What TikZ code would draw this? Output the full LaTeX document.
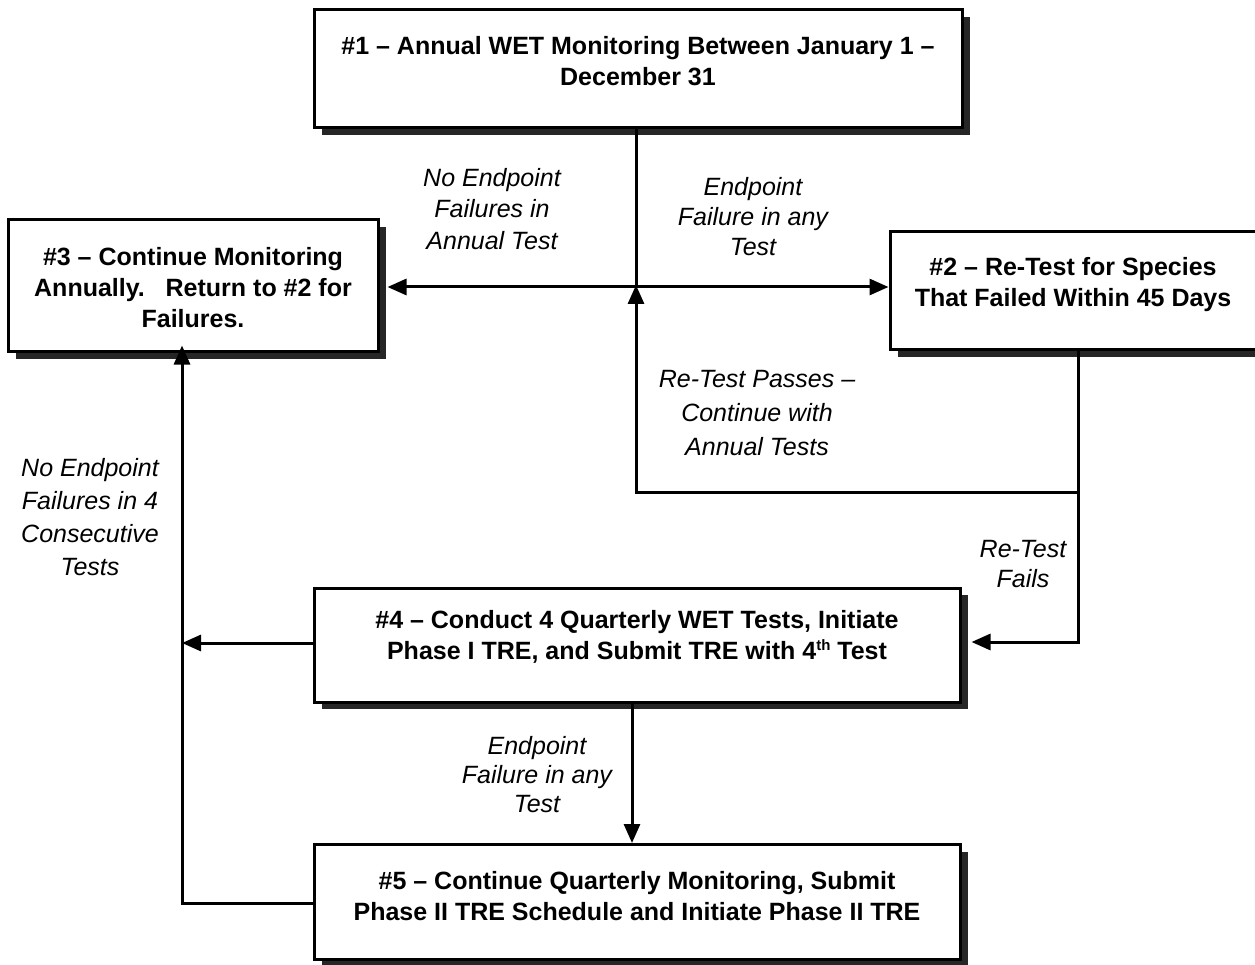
\documentclass[tikz,border=0pt]{standalone}
\usepackage{fontspec}
\setmainfont{Liberation Sans}
\usetikzlibrary{arrows.meta,shadows}
\tikzset{
  box/.style={draw, line width=3pt, fill=white, inner sep=0pt,
    drop shadow={shadow xshift=8pt, shadow yshift=-7pt, fill=black!85, opacity=1}},
  btext/.style={font=\fontsize{25}{31}\selectfont\bfseries, align=center, inner sep=0pt},
  ltext/.style={font=\fontsize{25}{31}\selectfont\itshape, align=center, inner sep=0pt},
  conn/.style={line width=3pt},
  tip/.style={-{Triangle[length=19pt,width=16pt]}},
  dtip/.style={{Triangle[length=19pt,width=16pt]}-{Triangle[length=19pt,width=16pt]}}
}
\begin{document}
\begin{tikzpicture}[x=1pt,y=-1pt]
\useasboundingbox (0,0) rectangle (1255,965);
\begin{scope}
\clip (0,0) rectangle (1255,965);
% boxes
\node[box, minimum width=648pt, minimum height=118pt] (b1) at (638,69) {};
\node[box, minimum width=370pt, minimum height=132pt] (b3) at (193,286) {};
\node[box, minimum width=372pt, minimum height=118pt] (b2) at (1076,291) {};
\node[box, minimum width=646pt, minimum height=114pt] (b4) at (637,645) {};
\node[box, minimum width=646pt, minimum height=115pt] (b5) at (637,902) {};
\end{scope}
% box texts
\node[btext] (t1) at (638,61) {\#1 – Annual WET Monitoring Between January 1 –\\December 31};
\node[btext] (t3) at (193,288) {\#3 – Continue Monitoring\\Annually.\ \ \ Return to \#2 for\\Failures.};
\node[btext] (t2) at (1073,285) {\#2 – Re-Test for Species\\That Failed Within 45 Days};
\node[btext] (t4) at (637,637) {\#4 – Conduct 4 Quarterly WET Tests, Initiate\\Phase I TRE, and Submit TRE with 4{\fontsize{15}{15}\selectfont\raisebox{9pt}{th}} Test};
\node[btext] (t5) at (637,896) {\#5 – Continue Quarterly Monitoring, Submit\\Phase II TRE Schedule and Initiate Phase II TRE};
% junction coordinates
\coordinate (j1) at (636,287);
\coordinate (j2) at (1078,492);
\coordinate (j3) at (636,492);
\coordinate (j4) at (182,643);
\coordinate (j5) at (182,903);
% connectors
\draw[conn] (b1.south -| j1) -- (j1);
\draw[conn, dtip] ([xshift=8pt]b3.east |- j1) -- (b2.west |- j1);
\draw[conn, tip] (b2.south -| j2) -- (j2) -- (j3) -- ([yshift=2pt]j1);
\draw[conn, tip] (j2) -- (1078,642) -- ([xshift=10pt]b4.east |- 0,642);
\draw[conn, tip] (b4.west |- j4) -- (j4);
\draw[conn, tip] (b5.west |- j5) -- (j5) -- ([yshift=8pt]b3.south -| j5);
\draw[conn, tip] (b4.south -| 632,0) -- (b5.north -| 632,0);
% labels
\node[ltext, font=\fontsize{25}{31.5}\selectfont\itshape] (l1) at (492,209) {No Endpoint\\Failures in\\Annual Test};
\node[ltext, font=\fontsize{25}{30}\selectfont\itshape] (l2) at (753,217) {Endpoint\\Failure in any\\Test};
\node[ltext, font=\fontsize{25}{34}\selectfont\itshape] (l3) at (757,413) {Re-Test Passes –\\Continue with\\Annual Tests};
\node[ltext, font=\fontsize{25}{30}\selectfont\itshape] (l4) at (1023,564) {Re-Test\\Fails};
\node[ltext, font=\fontsize{25}{33}\selectfont\itshape] (l5) at (90,517) {No Endpoint\\Failures in 4\\Consecutive\\Tests};
\node[ltext, font=\fontsize{25}{29}\selectfont\itshape] (l6) at (537,775) {Endpoint\\Failure in any\\Test};
\end{tikzpicture}
\end{document}
